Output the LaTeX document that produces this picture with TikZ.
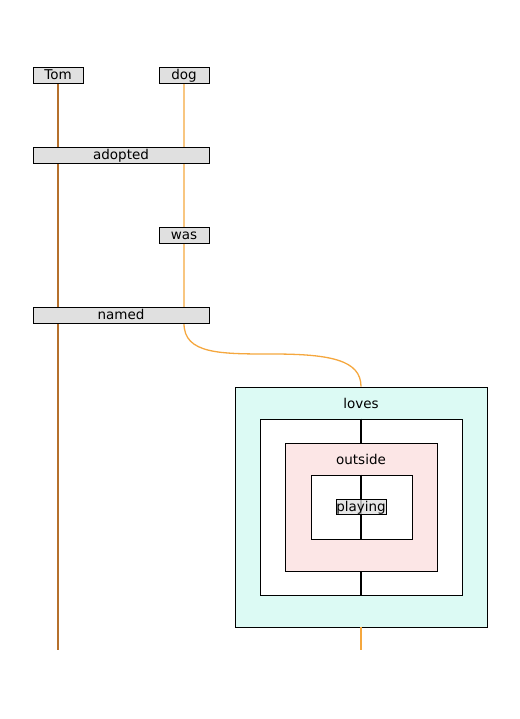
\documentclass[tikz,border=0pt]{standalone}
\usepackage{fontspec}
\setmainfont{DejaVu Sans}
\definecolor{tomc}{HTML}{B5702C}
\definecolor{dogc}{HTML}{F5A73E}
\definecolor{cyanf}{HTML}{DCFAF4}
\definecolor{pinkf}{HTML}{FCE6E6}
\definecolor{grayf}{HTML}{E0E0E0}
\pgfdeclarelayer{bg}
\pgfsetlayers{bg,main}
\begin{document}
\begin{tikzpicture}[x=1pt,y=-1pt,
  wbox/.style={draw=black,fill=grayf,line width=0.9pt,inner sep=0pt,minimum height=16pt,text height=12.6pt,text depth=3.4pt,font=\fontsize{13.5}{15}\selectfont},
  frame/.style={draw=black,line width=0.9pt,inner sep=0pt},
  lbl/.style={font=\fontsize{13.5}{15}\selectfont,inner sep=0pt},
  tomline/.style={draw=tomc,line width=1.3pt},
  dogline/.style={draw=dogc,line width=1.3pt},
  blkline/.style={draw=black,line width=1.5pt}]
\useasboundingbox (0,0) rectangle (519,719);
% frames
\node[frame,fill=cyanf,minimum width=252pt,minimum height=240pt] (loves) at (361,507) {};
\node[lbl] (loveslbl) at (361,403.5) {loves};
\node[frame,fill=white,minimum width=202pt,minimum height=176pt] (outer) at (361,507) {};
\node[frame,fill=pinkf,minimum width=152pt,minimum height=128pt] (pink) at (361,507) {};
\node[lbl] (outlbl) at (361,459.5) {outside};
\node[frame,fill=white,minimum width=101pt,minimum height=64pt] (inner) at (361.5,507) {};
% words
\node[wbox,minimum width=50pt] (tom) at (58,75) {Tom};
\node[wbox,minimum width=50pt] (dog) at (184,75) {dog};
\node[wbox,minimum width=176pt] (adopted) at (121,155) {adopted};
\node[wbox,minimum width=50pt] (was) at (184,235) {was};
\node[wbox,minimum width=176pt] (named) at (121,315) {named};
\coordinate (tomend) at (58,650);
\coordinate (dogend) at (361,650);
\coordinate (bend) at (272,354);
\begin{pgfonlayer}{bg}
\draw[tomline] (tom.south) -- (tomend);
\draw[dogline] (dog.south) -- (dog |- named.south)
  .. controls (184,354) and (220,354) .. (bend)
  .. controls (330,354) and (361,360) .. (loves.north);
\end{pgfonlayer}
\draw[blkline] (outer.north) -- (pink.north);
\draw[blkline] (pink.south) -- (outer.south);
\draw[blkline] (inner.north -| pink.north) -- (inner.south -| pink.south);
\node[wbox,minimum width=50pt,minimum height=15pt,text height=0pt,text depth=0pt,fill=grayf,fill opacity=0.8,text opacity=1] (playing) at (361,507) {};
\node[lbl] (playlbl) at (361,507.5) {playing};
\draw[dogline] (loves.south) -- (dogend);
\end{tikzpicture}
\end{document}
